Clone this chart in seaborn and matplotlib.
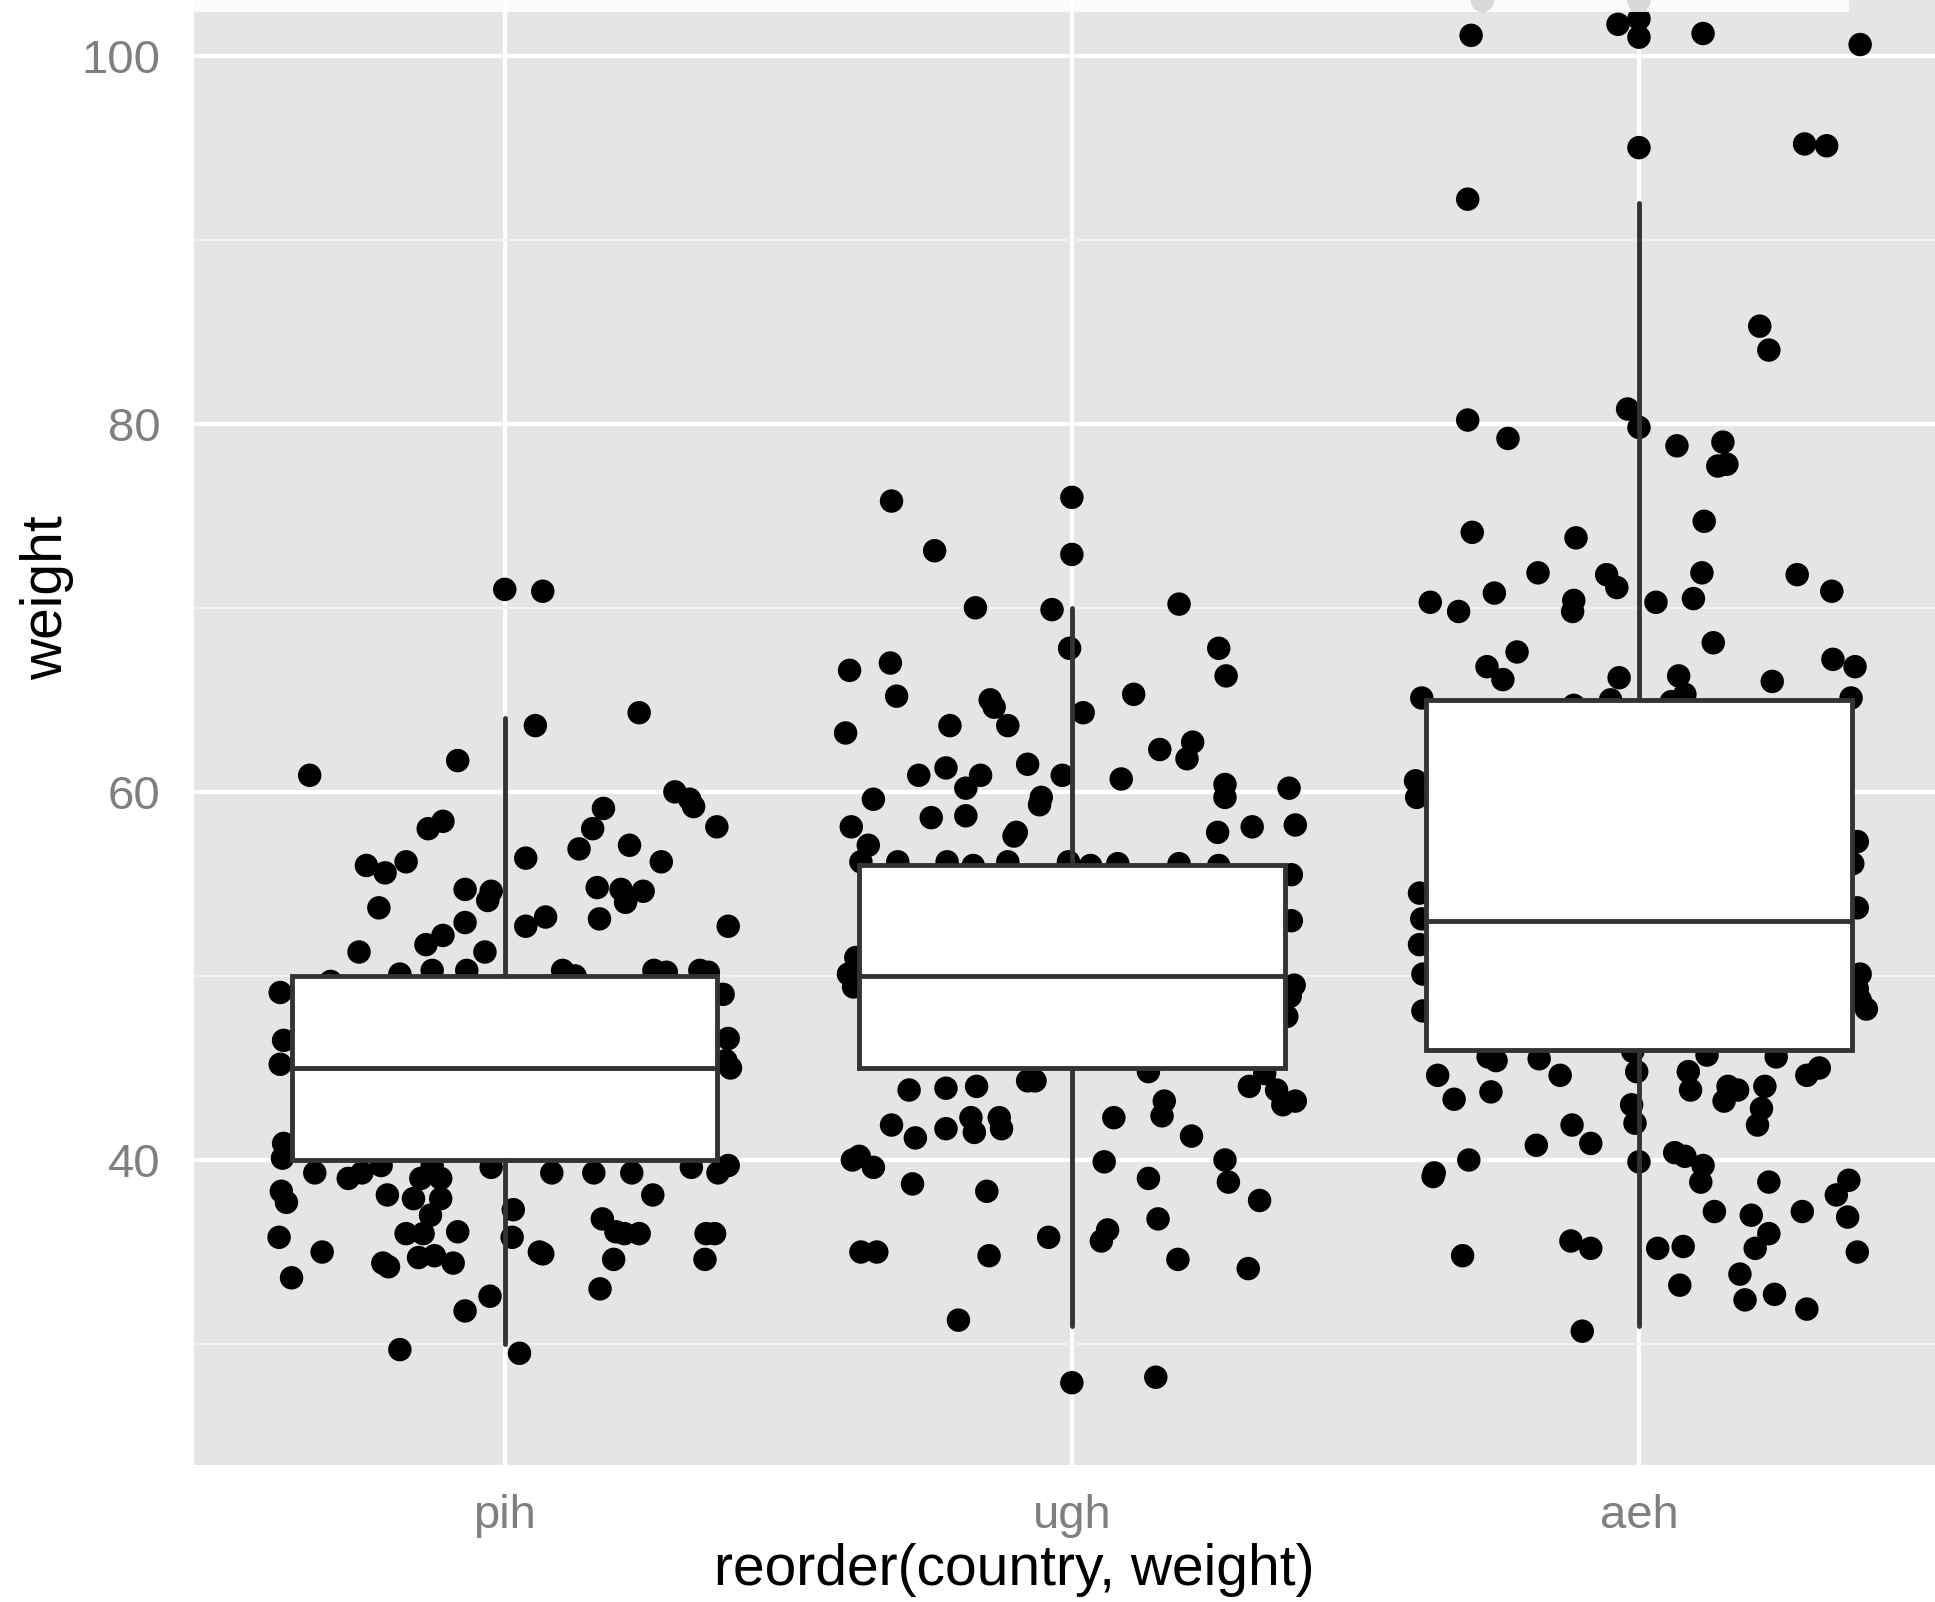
import numpy as np
import pandas as pd
import matplotlib
matplotlib.use("Agg")
import matplotlib.pyplot as plt
import seaborn as sns
from matplotlib.patches import Rectangle

# ---------------- data ----------------
categories = ["pih", "ugh", "aeh"]

# box statistics
box_q1 = [40, 45, 46]
box_med = [45, 50, 53]
box_q3 = [50, 56, 65]
whisker_lo = [30, 31, 31]
whisker_hi = [64, 70, 92]

# jittered points: horizontal jitter (category units) and weight
pih_jitter = [0.0, 0.067, 0.054, -0.344, -0.083, 0.237, 0.30, 0.326, 0.333, 0.374,
              0.174, 0.155, 0.22, 0.276, 0.131, -0.135, -0.109, -0.244, -0.211, -0.174,
              0.037, -0.222, -0.070, -0.030, -0.024, 0.163, 0.205, 0.213, 0.244, 0.394,
              0.072, 0.037, 0.167, -0.070, -0.109, -0.139, -0.257, -0.035, -0.067, -0.128,
              -0.185, -0.307, -0.396, 0.102, 0.124, 0.263, 0.285, 0.344, 0.359, 0.385,
              -0.39, -0.396, -0.39, -0.392, 0.394, 0.39, 0.398,
              -0.394, -0.385, -0.398, -0.376, -0.322, -0.335, -0.276, -0.252, -0.218, -0.207,
              -0.174, -0.161, -0.152, -0.215, -0.205, -0.144, -0.131, -0.113, -0.124, -0.091,
              -0.113, -0.148, -0.128, -0.083, -0.070, -0.026, -0.185, 0.015, 0.013, 0.061,
              0.067, 0.026, -0.024, 0.083, 0.157, 0.172, 0.224, 0.261, 0.192, 0.196,
              0.211, 0.237, 0.168, 0.355, 0.37, 0.353, 0.329, 0.394, 0.376]
pih_weight = [71.0, 70.9, 63.6, 60.9, 61.7, 64.3, 60.0, 59.6, 59.2, 58.1,
              59.1, 58.0, 57.1, 56.2, 56.9, 58.0, 58.4, 56.0, 55.6, 56.2,
              56.4, 53.7, 54.7, 54.1, 54.6, 54.8, 54.7, 54.0, 54.6, 52.7,
              53.2, 52.7, 53.1, 52.9, 52.2, 51.7, 51.3, 51.3, 50.3, 50.3,
              50.1, 49.7, 49.1, 50.3, 50.0, 50.3, 50.2, 50.3, 50.2, 49.0,
              46.5, 45.2, 40.9, 40.1, 46.6, 45.4, 45.0,
              38.3, 37.7, 35.8, 33.6, 35.0, 39.3, 39.0, 39.3, 39.7, 38.1,
              36.0, 37.9, 34.7, 34.4, 34.2, 36.0, 37.0, 37.9, 34.8, 34.4,
              39.0, 39.0, 39.7, 36.1, 31.8, 32.6, 29.7, 37.3, 35.8, 35.0,
              34.9, 29.5, 39.6, 39.3, 39.3, 36.8, 39.3, 38.1, 34.6, 36.1,
              36.0, 36.0, 33.0, 36.0, 36.0, 34.6, 39.6, 39.7, 39.3]

ugh_jitter = [-0.318, 0.0, 0.0, -0.242, -0.170, -0.035, 0.189, -0.004, 0.020, -0.392,
              -0.320, -0.309, -0.399, -0.215, -0.144, -0.137, -0.113, 0.109, 0.259, 0.272,
              0.213, 0.155, 0.203, 0.270, 0.270, 0.383, 0.394, 0.257, 0.318, 0.087,
              -0.017, -0.054, -0.057, -0.078, -0.161, -0.187, -0.222, -0.270, -0.350, -0.389,
              -0.359, -0.248, -0.187, -0.098, -0.102,
              -0.372, -0.307, -0.220, -0.174, -0.113, -0.006, 0.033, 0.081, 0.189, 0.259, 0.387,
              0.387, 0.392, 0.385, 0.379, -0.394, -0.385, -0.381,
              -0.287, -0.222, -0.168, -0.078, -0.065, 0.135, 0.313, 0.394, 0.361, 0.34,
              0.372, -0.318, -0.276, -0.222, -0.178, -0.172, -0.128, -0.124, 0.074, 0.163,
              0.159, 0.211, -0.387, -0.375, -0.350, -0.281, -0.150, 0.057, 0.135, 0.270,
              0.276, 0.331, 0.152, -0.041, 0.063, 0.052, -0.372, -0.344, -0.146, 0.187,
              0.311, -0.200, 0.0, 0.148]
ugh_weight = [75.8, 76.0, 72.9, 73.1, 70.0, 69.9, 70.2, 67.8, 64.3, 66.6,
              67.0, 65.2, 63.2, 63.6, 65.0, 64.6, 63.6, 65.3, 67.8, 66.3,
              62.7, 62.3, 61.8, 60.4, 59.7, 60.2, 58.2, 57.8, 58.1, 60.7,
              60.9, 59.7, 59.3, 61.5, 60.9, 60.2, 61.3, 60.9, 59.6, 58.1,
              57.1, 58.6, 58.7, 57.8, 57.6,
              56.2, 56.2, 56.2, 56.0, 56.2, 56.2, 56.0, 56.1, 56.1, 56.0, 55.5,
              53.0, 49.5, 48.9, 47.8, 50.1, 49.4, 51.0,
              43.8, 43.9, 44.0, 44.3, 44.3, 44.8, 44.0, 43.2, 43.8, 44.7,
              43.0, 41.9, 41.2, 41.7, 42.3, 41.5, 42.3, 41.7, 42.3, 43.2,
              42.4, 41.3, 40.0, 40.2, 39.6, 38.7, 38.3, 39.9, 39.0, 40.0,
              38.8, 37.8, 36.8, 35.8, 36.2, 35.6, 35.0, 35.0, 34.8, 34.6,
              34.1, 31.3, 27.9, 28.2]

aeh_jitter = [-0.276, 0.0, -0.037, 0.0, 0.0, 0.113, -0.296, 0.390, 0.0, 0.292,
              0.331, -0.302, 0.213, 0.229, -0.302, -0.020, 0.0, -0.231, 0.067, 0.148,
              0.139, 0.155, 0.115, -0.294, -0.111, -0.178, 0.279, 0.340, -0.057, -0.039,
              -0.255, 0.111, 0.096, 0.030, -0.115, -0.117, -0.368, -0.318, 0.131, -0.215,
              -0.268, -0.240, 0.342, 0.381, 0.235, -0.035, 0.070, 0.081, -0.383, -0.115,
              -0.050, 0.057, 0.374,
              -0.394, -0.392, -0.387, -0.383, -0.387, -0.381, -0.381,
              0.385, 0.377, 0.385, 0.390, 0.385, 0.390, 0.401,
              -0.355, -0.326, -0.261, -0.266, -0.252, -0.176, -0.139, -0.181, -0.118, -0.085,
              -0.011, -0.004, -0.007, 0.0, -0.013, 0.087, 0.091, 0.063, 0.081, 0.113,
              0.109, 0.133, 0.157, 0.174, 0.150, 0.120, 0.222, 0.216, 0.209, 0.242,
              0.296, 0.318, -0.361, -0.363, -0.300, -0.311, -0.120, -0.085, -0.100, 0.033,
              0.072, 0.078, 0.178, 0.187, 0.198, 0.229, 0.205, 0.229, 0.288, 0.296,
              0.348, 0.370, 0.368, 0.385, 0.239]
aeh_weight = [103.0, 103.0, 101.7, 102.0, 101.0, 101.2, 101.1, 100.6, 95.0, 95.2,
              95.1, 92.2, 85.3, 84.0, 80.2, 80.8, 79.8, 79.2, 78.8, 79.0,
              77.7, 77.8, 74.7, 74.1, 73.8, 71.9, 71.8, 70.9, 71.8, 71.1,
              70.8, 71.9, 70.5, 70.3, 70.4, 69.8, 70.3, 69.8, 68.1, 67.6,
              66.8, 66.1, 67.2, 66.8, 66.0, 66.2, 66.3, 65.3, 65.1, 64.7,
              65.0, 64.9, 65.1,
              60.6, 59.7, 54.5, 53.1, 51.7, 50.1, 48.1,
              57.3, 56.1, 53.7, 50.1, 49.3, 48.7, 48.2,
              44.6, 43.3, 43.7, 45.6, 45.4, 45.5, 44.6, 40.8, 41.9, 40.9,
              45.9, 44.8, 42.0, 39.9, 43.0, 44.8, 43.8, 40.4, 40.2, 39.7,
              38.8, 37.2, 44.0, 43.8, 43.2, 45.7, 44.0, 42.8, 41.9, 45.6,
              44.6, 45.0, 39.3, 39.1, 40.0, 34.8, 35.6, 35.2, 30.7, 35.2,
              33.2, 35.3, 33.8, 32.4, 37.0, 38.8, 35.2, 36.0, 37.2, 31.9,
              38.1, 38.9, 36.9, 35.0, 32.7]

x_label = "reorder(country, weight)"
y_label = "weight"

# ---------------- build table ----------------
frames = []
for i, (jit, w) in enumerate([(pih_jitter, pih_weight), (ugh_jitter, ugh_weight), (aeh_jitter, aeh_weight)]):
    frames.append(pd.DataFrame({"pos": i + np.asarray(jit), "weight": w, "country": categories[i]}))
df = pd.concat(frames, ignore_index=True)

# ---------------- style ----------------
sns.set_theme(style="darkgrid")
plt.rcParams["font.family"] = ["Liberation Sans", "DejaVu Sans"]

W, H, DPI = 1935, 1602, 100
fig = plt.figure(figsize=(W / DPI, H / DPI), dpi=DPI, facecolor="white")
ax_left, ax_bottom = 194 / W, 137 / H
ax = fig.add_axes([ax_left, ax_bottom, 1 - ax_left, 1 - ax_bottom])
ax.set_facecolor("#E5E5E5")
for s in ax.spines.values():
    s.set_visible(False)

ax.set_xlim(-0.548, 2.522)
ax.set_ylim(23.43, 103.02)

ax.set_yticks([40, 60, 80, 100])
ax.set_yticks([30, 50, 70, 90], minor=True)
ax.set_xticks([0, 1, 2])
ax.set_xticklabels(categories)

ax.grid(which="major", color="white", linewidth=3.0)
ax.grid(which="minor", axis="y", color="#F2F2F2", linewidth=1.4)
ax.set_axisbelow(True)

ax.tick_params(axis="both", which="major", colors="#7F7F7F", labelsize=34,
               length=9, width=2.2, direction="out")
ax.tick_params(axis="x", pad=12)
ax.tick_params(axis="y", pad=15)
ax.tick_params(which="minor", length=0)
ax.tick_params(axis="both", labelcolor="#7F7F7F")

# points
sns.scatterplot(data=df, x="pos", y="weight", ax=ax, color="black", s=285,
                linewidth=0, edgecolor="none", zorder=2, legend=False)

# boxes
stats = []
for i in range(len(categories)):
    stats.append(dict(med=box_med[i], q1=box_q1[i], q3=box_q3[i],
                      whislo=whisker_lo[i], whishi=whisker_hi[i], fliers=[]))
ax.bxp(stats, positions=[0, 1, 2], widths=0.75, patch_artist=True,
       showcaps=False, showfliers=False,
       boxprops=dict(facecolor="white", edgecolor="#333333", linewidth=3.5),
       medianprops=dict(color="#333333", linewidth=3.5),
       whiskerprops=dict(color="#333333", linewidth=3.5),
       zorder=3, manage_ticks=False)

# faded overlay strip at the top
ax.add_patch(Rectangle((0, 0.9918), 0.9504, 0.02, transform=ax.transAxes,
                       facecolor="white", alpha=0.85, edgecolor="none",
                       zorder=5, clip_on=True))

ax.set_xlabel(x_label, fontsize=41, color="black")
ax.set_ylabel(y_label, fontsize=41, color="black")
ax.xaxis.label.set_va("center")
ax.yaxis.label.set_va("center")
ax.xaxis.set_label_coords(0.471, -0.0717)
ax.yaxis.set_label_coords(-0.0844, 0.592)

fig.savefig("out.png", dpi=DPI, facecolor="white")
